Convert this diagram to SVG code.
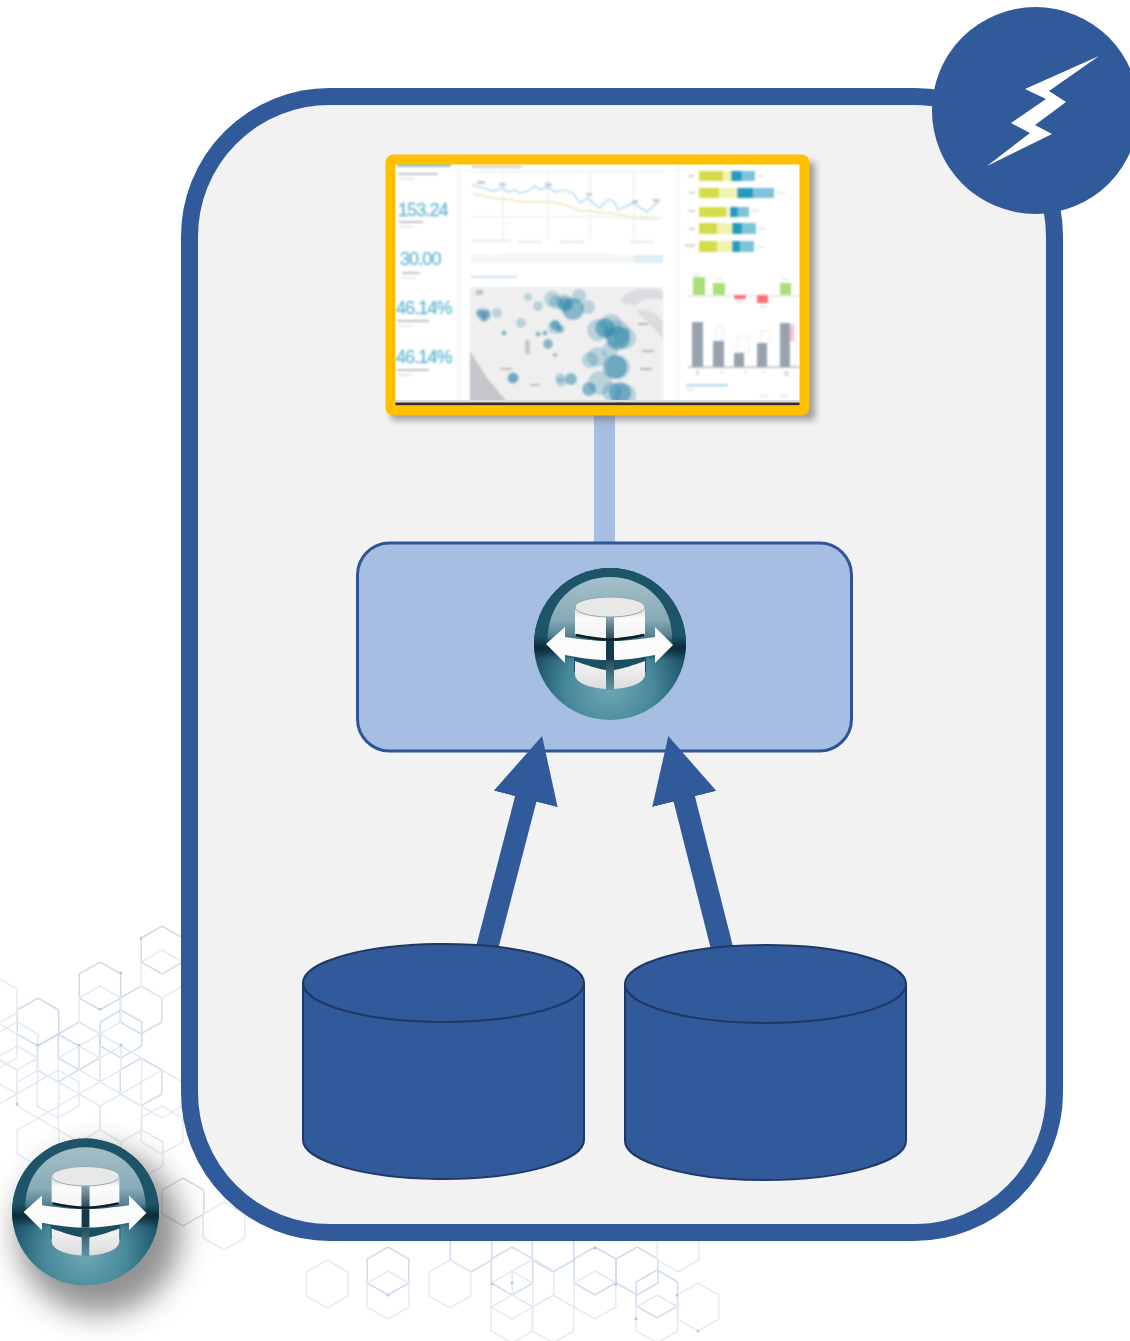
<svg xmlns="http://www.w3.org/2000/svg" xmlns:xlink="http://www.w3.org/1999/xlink" width="1130" height="1341" viewBox="0 0 1130 1341">
<style>
.hx{fill:none;stroke:#cfdcec;stroke-width:1.500}
.hf{fill:none;stroke:#e4ebf3;stroke-width:1.500}
.hd{fill:#b4cae1}
.bl circle{fill:#1f7fa6}
.o3 circle{fill-opacity:.26}
.o6 circle{fill-opacity:.5}
.num{font-family:"Liberation Sans",Arial,sans-serif;font-size:18px;fill:#6dbcd4;stroke:#6dbcd4;stroke-width:.4;letter-spacing:-.9px}
.lb{fill:#bcc1c5}
.lc{fill:#dcdfe1}
.y1{fill:#d5db49}.y2{fill:#f1f3b2}.b1{fill:#229dc0}.b2{fill:#80c4d9}
.gn{fill:#a9df76}.rd{fill:#ff6f72}.gr{fill:#98a2ad}
.gl{stroke:#e9e9e9;stroke-width:1;fill:none}
.cyl{fill:#315a9b;stroke:#1f3864;stroke-width:2}
.conn{stroke:#315a9b;stroke-width:22;fill:none;marker-end:url(#head)}
</style>
<defs>
<path id="hex" d="M0,-24L20.8,-12V12L0,24L-20.8,12V-12Z"/>
<marker id="head" markerUnits="userSpaceOnUse" markerWidth="66" markerHeight="66" refX="1" refY="33" orient="auto"><path d="M0,0L65,33L0,66Z" fill="#315a9b"/></marker>
<filter id="soft" x="-5%" y="-5%" width="110%" height="110%"><feGaussianBlur stdDeviation="0.8"/></filter>
<filter id="tiny" x="-5%" y="-5%" width="110%" height="110%"><feGaussianBlur stdDeviation="0.5"/></filter>
<filter id="sh" x="-20%" y="-20%" width="140%" height="140%"><feGaussianBlur stdDeviation="3.500"/></filter>
<filter id="sh2" x="-40%" y="-40%" width="180%" height="180%"><feGaussianBlur stdDeviation="15"/></filter>
<radialGradient id="ballLow" cx="50%" cy="78%" r="52%"><stop offset="0" stop-color="#6fa8b3"/><stop offset=".55" stop-color="#47899b"/><stop offset="1" stop-color="#1a5066"/></radialGradient>
<linearGradient id="gloss" x1="0" y1="0" x2="0" y2="1"><stop offset="0" stop-color="#a4bfc8"/><stop offset=".6" stop-color="#88abb6"/><stop offset="1" stop-color="#2b6377"/></linearGradient>
<linearGradient id="hor" x1="0" y1="0" x2="0" y2="1"><stop offset="0" stop-color="#0b2a38" stop-opacity="0"/><stop offset=".5" stop-color="#0b2a38"/><stop offset="1" stop-color="#0b2a38" stop-opacity="0"/></linearGradient>
<linearGradient id="gap" x1="0" y1="0" x2="0" y2="1"><stop offset="0" stop-color="#8fb0ba"/><stop offset=".42" stop-color="#0d2a36"/><stop offset="1" stop-color="#5f97a6"/></linearGradient>
<linearGradient id="bodyU" x1="0" y1="0" x2="0" y2="1"><stop offset="0" stop-color="#cfd6d7"/><stop offset=".35" stop-color="#fbfbfb"/><stop offset="1" stop-color="#f3f3f3"/></linearGradient>
<linearGradient id="bodyL" x1="0" y1="0" x2="0" y2="1"><stop offset="0" stop-color="#f4f4f4"/><stop offset="1" stop-color="#dcdcdc"/></linearGradient>
<clipPath id="ballClip"><circle r="76"/></clipPath>
<g id="dbIcon">
<circle r="76" fill="url(#ballLow)"/>
<path d="M-76,0A76,76 0 0 1 76,0Z" fill="#1d5468"/>
<path d="M-62,4C-66,-42 -34,-67 0,-67C34,-67 66,-42 62,4C34,-6 -34,-6 -62,4Z" fill="url(#gloss)"/>
<g clip-path="url(#ballClip)"><rect x="-76" y="-8" width="152" height="24" fill="url(#hor)"/></g>
<rect x="-36" y="10" width="72" height="18" fill="#1b4e61"/>
<path d="M-35,-37V-10C-24,-8 -12,-6 -4,-5V-30Z" fill="url(#bodyU)"/>
<path d="M35,-37V-10C24,-8 12,-6 4,-5V-30Z" fill="url(#bodyU)"/>
<rect x="-4" y="-29" width="8" height="75" fill="url(#gap)"/>
<path d="M-35,17C-24,21 -12,25 -4,26V45C-18,44 -35,40 -35,30Z" fill="url(#bodyL)"/>
<path d="M35,17C24,21 12,25 4,26V45C18,44 35,40 35,30Z" fill="url(#bodyL)"/>
<ellipse cx="0" cy="-37" rx="35" ry="10" fill="#e8e8e8" stroke="#8fa9b1" stroke-width="1"/>
<path d="M-64,0L-45,-17V-7C-30,-5 -14,-3 -4,-3H4C14,-3 30,-5 45,-7V-17L63,1L45,19V11C30,14 14,16 4,16H-4C-14,16 -30,14 -45,11V19Z" fill="#fbfbfb"/>
<rect x="-4" y="-3" width="8" height="19" fill="#123a4a"/>
<path d="M-34,-9C-20,-6 -10,-4.500 0,-4.500C10,-4.500 20,-6 34,-9" fill="none" stroke="#0a1f28" stroke-width="2.400"/>
</g>
<clipPath id="mapClip"><rect x="470" y="287" width="193" height="117"/></clipPath>
<clipPath id="screenClip"><rect x="395" y="164" width="405" height="241"/></clipPath>
</defs>

<rect width="1130" height="1341" fill="#ffffff"/>

<g id="hex-background" filter="url(#tiny)">
<g class="hx">
<use xlink:href="#hex" href="#hex" x="162" y="950"/><use xlink:href="#hex" href="#hex" x="100" y="986"/><use xlink:href="#hex" href="#hex" x="38" y="1022"/><use xlink:href="#hex" href="#hex" x="141" y="1010"/><use xlink:href="#hex" href="#hex" x="79" y="1046"/><use xlink:href="#hex" href="#hex" x="121" y="1034"/><use xlink:href="#hex" href="#hex" x="141" y="1082"/><use xlink:href="#hex" href="#hex" x="183" y="1202"/><use xlink:href="#hex" href="#hex" x="58" y="1058"/>
<use xlink:href="#hex" href="#hex" x="388" y="1271"/><use xlink:href="#hex" href="#hex" x="512" y="1271"/><use xlink:href="#hex" href="#hex" x="595" y="1271"/><use xlink:href="#hex" href="#hex" x="637" y="1271"/><use xlink:href="#hex" href="#hex" x="657" y="1294"/><use xlink:href="#hex" href="#hex" x="471" y="1248"/><use xlink:href="#hex" href="#hex" x="553" y="1248"/>
</g>
<g class="hf">
<use xlink:href="#hex" href="#hex" x="162" y="974"/><use xlink:href="#hex" href="#hex" x="100" y="1010"/><use xlink:href="#hex" href="#hex" x="-4" y="1001"/><use xlink:href="#hex" href="#hex" x="17" y="1046"/><use xlink:href="#hex" href="#hex" x="58" y="1094"/><use xlink:href="#hex" href="#hex" x="100" y="1058"/><use xlink:href="#hex" href="#hex" x="38" y="1094"/><use xlink:href="#hex" href="#hex" x="-4" y="1082"/><use xlink:href="#hex" href="#hex" x="79" y="1118"/><use xlink:href="#hex" href="#hex" x="121" y="1118"/><use xlink:href="#hex" href="#hex" x="162" y="1094"/><use xlink:href="#hex" href="#hex" x="142" y="1154"/><use xlink:href="#hex" href="#hex" x="224" y="1226"/><use xlink:href="#hex" href="#hex" x="38" y="1142"/><use xlink:href="#hex" href="#hex" x="17" y="1070"/><use xlink:href="#hex" href="#hex" x="79" y="1070"/><use xlink:href="#hex" href="#hex" x="121" y="1070"/><use xlink:href="#hex" href="#hex" x="-4" y="1046"/><use xlink:href="#hex" href="#hex" x="162" y="1130"/>
<use xlink:href="#hex" href="#hex" x="327" y="1284"/><use xlink:href="#hex" href="#hex" x="388" y="1295"/><use xlink:href="#hex" href="#hex" x="450" y="1284"/><use xlink:href="#hex" href="#hex" x="512" y="1295"/><use xlink:href="#hex" href="#hex" x="512" y="1319"/><use xlink:href="#hex" href="#hex" x="553" y="1319"/><use xlink:href="#hex" href="#hex" x="595" y="1295"/><use xlink:href="#hex" href="#hex" x="678" y="1248"/><use xlink:href="#hex" href="#hex" x="698" y="1307"/><use xlink:href="#hex" href="#hex" x="657" y="1319"/><use xlink:href="#hex" href="#hex" x="533" y="1283"/>
</g>
<g class="hd">
<circle cx="141" cy="938" r="1.500"/><circle cx="121" cy="973" r="1.500"/><circle cx="100" cy="1009" r="1.500"/><circle cx="38" cy="1045" r="1.500"/><circle cx="79" cy="1045" r="1.500"/><circle cx="121" cy="1045" r="1.500"/><circle cx="17" cy="1104" r="1.500"/>
<circle cx="388" cy="1295" r="1.500"/><circle cx="512" cy="1283" r="1.500"/><circle cx="492" cy="1284" r="1.500"/><circle cx="595" cy="1248" r="1.500"/><circle cx="616" cy="1284" r="1.500"/><circle cx="677" cy="1295" r="1.500"/><circle cx="636" cy="1319" r="1.500"/><circle cx="698" cy="1331" r="1.500"/>
</g>
</g>

<g id="main-container">
<rect x="189.500" y="96.500" width="865" height="1136" rx="140" ry="140" fill="#f2f2f2" stroke="#315a9b" stroke-width="17"/>
</g>

<g id="connectors">
<rect x="594" y="412" width="21" height="132" fill="#a5bee2"/>
</g>

<g id="dashboard">
<rect x="391" y="162" width="424" height="258" fill="#6e6e6e" opacity=".65" filter="url(#sh)"/>
<rect x="389" y="158" width="416" height="253" fill="#ffffff"/>
<g clip-path="url(#screenClip)" filter="url(#soft)">
<rect x="397" y="162" width="54" height="5" fill="#8ecbdc"/>
<rect x="398" y="173" width="40" height="2" class="lb"/><rect x="398" y="178" width="16" height="1.500" class="lc"/>
<rect x="458.500" y="164" width="1.500" height="240" fill="#eef0f1"/>
<rect x="677.500" y="164" width="1.500" height="240" fill="#eef0f1"/>
<g>
<text class="num" x="398" y="216">153.24</text><rect x="399" y="221" width="24" height="2" class="lb"/><rect x="399" y="226" width="14" height="1.500" class="lc"/>
<text class="num" x="400" y="265">30.00</text><rect x="402" y="272" width="18" height="2" class="lb"/><rect x="402" y="277" width="14" height="1.500" class="lc"/>
<text class="num" x="396" y="314">46.14%</text><rect x="397" y="320" width="32" height="2" class="lb"/><rect x="397" y="325" width="14" height="1.500" class="lc"/>
<text class="num" x="396" y="363">46.14%</text><rect x="397" y="369" width="32" height="2" class="lb"/><rect x="397" y="374" width="14" height="1.500" class="lc"/>
</g>
<rect x="472" y="165" width="50" height="3" fill="#d6d8da"/>
<path class="gl" d="M471,172H664M471,217H664M503,170V240M548,170V240M590,170V240M634,170V240"/>
<rect x="471" y="240" width="40" height="1.500" fill="#e0e2e4"/><rect x="518" y="241" width="24" height="1.500" class="lc"/><rect x="560" y="241" width="24" height="1.500" class="lc"/><rect x="630" y="241" width="24" height="1.500" class="lc"/>
<path d="M471,263V254C500,256 560,250 640,256V263Z" fill="#f3f4f5"/>
<rect x="635" y="255" width="28" height="8" fill="#deedf8"/>
<rect x="471" y="276" width="46" height="2" fill="#c9e4ef"/>
<polyline fill="none" stroke="#9ad3e6" stroke-width="1.200" points="472,185 480,187 493,191 503,188 508,192 515,190 520,193 528,191 535,186 540,190 548,187 555,192 563,190 573,193 580,203 588,198 595,205 600,208 607,200 613,200 618,210 633,203 647,212 660,200"/>
<polyline fill="none" stroke="#dcdc90" stroke-width="1.200" points="473,194 493,198 513,200 520,202 535,202 548,202 563,204 580,211 590,211 600,213 613,213 633,218 660,219"/>
<rect x="477" y="181" width="8" height="3" fill="#c9cccf"/><rect x="499" y="183" width="7" height="3" fill="#c9cccf"/><rect x="545" y="183" width="7" height="3" fill="#c9cccf"/><rect x="586" y="193" width="6" height="3" fill="#c9cccf"/><rect x="632" y="200" width="6" height="3" fill="#c9cccf"/><rect x="653" y="199" width="6" height="3" fill="#c9cccf"/>

<rect x="470" y="287" width="193" height="117" fill="#efefef"/>
<g clip-path="url(#mapClip)">
<path d="M470,351L487,378L509,404H470Z" fill="#c5c5ca"/>
<path d="M620,300C628,288 650,286 663,291V300C650,296 640,300 636,306C628,304 622,304 620,300ZM636,310C650,308 660,316 663,322V340C655,328 642,318 636,310Z" fill="#dcdce0"/>
<rect x="476" y="290" width="7" height="5" fill="#c0c0c0"/><rect x="525" y="340" width="5" height="14" fill="#c6c6c6"/><rect x="500" y="368" width="12" height="2" fill="#b9b9b9"/><rect x="530" y="384" width="10" height="2" fill="#b9b9b9"/><rect x="638" y="323" width="10" height="2" fill="#b0b0b0"/><rect x="642" y="350" width="12" height="2" fill="#b0b0b0"/><rect x="640" y="368" width="12" height="2" fill="#b0b0b0"/>
<g class="bl o3">
<circle cx="528" cy="297" r="4"/><circle cx="552" cy="299" r="8"/><circle cx="579" cy="296" r="7"/><circle cx="538" cy="306" r="5"/><circle cx="588" cy="307" r="7"/><circle cx="497" cy="313" r="5"/><circle cx="611" cy="325" r="11"/><circle cx="617" cy="333" r="13"/><circle cx="597" cy="357" r="10"/><circle cx="618" cy="367" r="12"/><circle cx="600" cy="383" r="12"/><circle cx="560" cy="378" r="5"/><circle cx="561" cy="382" r="5"/>
<circle cx="521" cy="323" r="5"/><circle cx="590" cy="360" r="8"/><circle cx="598" cy="330" r="11"/><circle cx="556" cy="302" r="7"/><circle cx="565" cy="303" r="9"/><circle cx="625" cy="338" r="11"/><circle cx="610" cy="350" r="8"/><circle cx="625" cy="395" r="11"/><circle cx="612" cy="392" r="10"/><circle cx="555" cy="327" r="7"/><circle cx="513" cy="378" r="6"/><circle cx="484" cy="315" r="7"/>
</g>
<g class="bl o6">
<circle cx="573" cy="309" r="11"/><circle cx="565" cy="304" r="7"/><circle cx="480" cy="313" r="4"/><circle cx="486" cy="314" r="4"/><circle cx="484" cy="318" r="3"/><circle cx="555" cy="325" r="5"/><circle cx="560" cy="329" r="4"/><circle cx="504" cy="333" r="2.500"/><circle cx="538" cy="334" r="2.500"/><circle cx="545" cy="333" r="2.500"/><circle cx="548" cy="344" r="5"/><circle cx="555" cy="355" r="2"/><circle cx="513" cy="378" r="5"/><circle cx="571" cy="379" r="6"/><circle cx="589" cy="389" r="7"/><circle cx="618" cy="338" r="12"/><circle cx="605" cy="328" r="10"/><circle cx="615" cy="367" r="12"/><circle cx="620" cy="393" r="11"/>
</g>
</g>

<g>
<rect x="699" y="171" width="24" height="10" class="y1"/><rect x="723" y="171" width="8" height="10" class="y2"/><rect x="731" y="171" width="11" height="10" class="b1"/><rect x="742" y="171" width="13" height="10" class="b2"/>
<rect x="699" y="188" width="20" height="10" class="y1"/><rect x="719" y="188" width="18" height="10" class="y2"/><rect x="737" y="188" width="16" height="10" class="b1"/><rect x="753" y="188" width="21" height="10" class="b2"/>
<rect x="699" y="207" width="27" height="10" class="y1"/><rect x="726" y="207" width="3" height="10" class="y2"/><rect x="730" y="207" width="8" height="10" class="b1"/><rect x="738" y="207" width="11" height="10" class="b2"/>
<rect x="699" y="223" width="18" height="11" class="y1"/><rect x="717" y="223" width="15" height="11" class="y2"/><rect x="732" y="223" width="10" height="11" class="b1"/><rect x="742" y="223" width="14" height="11" class="b2"/>
<rect x="699" y="241" width="18" height="11" class="y1"/><rect x="717" y="241" width="15" height="11" class="y2"/><rect x="732" y="241" width="8" height="11" class="b1"/><rect x="740" y="241" width="14" height="11" class="b2"/>
<rect x="688" y="175" width="6" height="1.500" class="lb"/><rect x="689" y="192" width="6" height="1.500" class="lb"/><rect x="688" y="210" width="7" height="1.500" class="lb"/><rect x="689" y="228" width="6" height="1.500" class="lb"/><rect x="685" y="244" width="10" height="3" class="lc"/>
<rect x="757" y="175" width="8" height="1.500" class="lc"/><rect x="776" y="192" width="9" height="1.500" class="lc"/><rect x="751" y="210" width="8" height="1.500" class="lc"/><rect x="758" y="228" width="8" height="1.500" class="lc"/><rect x="756" y="246" width="8" height="1.500" class="lc"/>
<rect x="688" y="295.500" width="112" height="1" fill="#d5d7d9"/>
<rect x="693" y="277" width="12" height="18" class="gn"/><rect x="713" y="283" width="12" height="12" class="gn"/><rect x="780" y="283" width="11" height="12" class="gn"/>
<rect x="734" y="295" width="12" height="4" class="rd"/><rect x="757" y="295" width="11" height="8" class="rd"/>
<rect x="694" y="273" width="6" height="1.500" class="lc"/><rect x="716" y="278" width="6" height="1.500" class="lc"/><rect x="782" y="278" width="6" height="1.500" class="lc"/><rect x="736" y="301" width="7" height="1.500" class="lc"/><rect x="760" y="306" width="6" height="1.500" class="lc"/>
<path d="M716,327H723V340H716ZM738,336H749V352H738ZM761,331H770V344H761ZM783,324H796V366H783Z" fill="none" stroke="#dcdfe2" stroke-width="1" stroke-dasharray="2 1"/>
<rect x="692" y="322" width="11" height="45" class="gr"/><rect x="713" y="341" width="11" height="26" class="gr"/><rect x="734" y="353" width="10" height="14" class="gr"/><rect x="757" y="343" width="10" height="24" class="gr"/><rect x="780" y="323" width="10" height="44" class="gr"/>
<rect x="790" y="325" width="4" height="16" fill="#f4c6cc"/>
<rect x="688" y="366.500" width="112" height="1.500" fill="#b6bbc0"/>
<rect x="696" y="370" width="3" height="5" class="lc"/><rect x="720" y="371" width="3" height="2" class="lc"/><rect x="744" y="371" width="3" height="2" class="lc"/><rect x="762" y="371" width="3" height="2" class="lc"/><rect x="784" y="371" width="5" height="5" class="lc"/>
<rect x="686" y="384" width="42" height="2.500" fill="#b6dcea"/><rect x="686" y="389" width="8" height="1.500" class="lc"/>
<rect x="760" y="395" width="8" height="1.500" class="lc"/><rect x="780" y="395" width="8" height="1.500" class="lc"/>
</g>
</g>
<rect x="395" y="400" width="405" height="2.500" fill="#dcdcdc"/>
<rect x="395" y="402.500" width="405" height="3" fill="#2e2e2e"/>
<rect x="390.500" y="159.500" width="414" height="251" rx="3" fill="none" stroke="#ffc000" stroke-width="10"/>
</g>

<g id="data-node">
<rect x="357.500" y="543" width="494" height="208" rx="32" fill="#a6bee2" stroke="#2f5597" stroke-width="3"/>
</g>

<g id="connectors-arrows">
<line class="conn" x1="486" y1="952" x2="526" y2="798"/>
<line class="conn" x1="723" y1="952" x2="684" y2="798"/>
</g>

<g id="data-node-icon">
<use xlink:href="#dbIcon" href="#dbIcon" transform="translate(610,644)"/>
</g>

<g id="database-left">
<path class="cyl" d="M303,983V1140C303,1161 366,1179 443.500,1179C521,1179 584,1161 584,1140V983Z"/>
<ellipse class="cyl" cx="443.500" cy="983" rx="140.500" ry="39"/>
</g>
<g id="database-right">
<path class="cyl" d="M625,984V1141C625,1162 688,1180 765.500,1180C843,1180 906,1162 906,1141V984Z"/>
<ellipse class="cyl" cx="765.500" cy="984" rx="140.500" ry="39"/>
</g>

<g id="lightning-badge">
<circle cx="1035.500" cy="110.500" r="103.500" fill="#315a9b"/>
<path d="M1099,56L1025,89L1046,99L1011,123L1030,133L987,166L1052,134L1035,125L1066,102L1049,91Z" fill="#ffffff" filter="url(#tiny)"/>
</g>

<g id="legend-icon">
<circle cx="99" cy="1232" r="82" fill="#4a4a4a" opacity=".6" filter="url(#sh2)"/>
<use xlink:href="#dbIcon" href="#dbIcon" transform="translate(85.500,1212) scale(.967)"/>
</g>
</svg>
